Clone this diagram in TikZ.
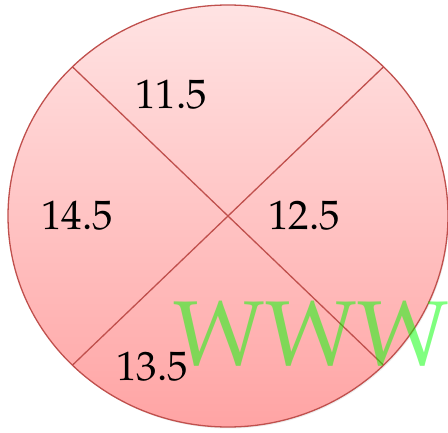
\documentclass[tikz,border=0pt]{standalone}
\usepackage[T1]{fontenc}
\usepackage{mathpazo}
\usepackage{tikz}
\usetikzlibrary{shadows}
\definecolor{pkborder}{HTML}{C0504D}
\definecolor{pktop}{HTML}{FFE3E3}
\definecolor{pkbottom}{HTML}{FFA4A4}
\definecolor{wwwgreen}{HTML}{00FF00}

\begin{document}
\begin{tikzpicture}[
  x=1pt, y=-1pt,
  num/.style={font=\fontsize{41}{44}\selectfont, inner sep=0pt, text=black},
  cut/.style={draw=pkborder, line width=1.3pt},
  mark text/.style={font=\fontsize{92}{96}\selectfont, text=wwwgreen, text opacity=0.5, inner sep=0pt, anchor=base west}
]
\useasboundingbox (0,0) rectangle (448,433);
% Disc
\shade[top color=pktop, bottom color=pkbottom, draw=pkborder, line width=1.3pt,
  drop shadow={opacity=0.15, shadow xshift=1pt, shadow yshift=-1.5pt}]
  (228,216) ellipse [x radius=220pt, y radius=211pt];
\coordinate (c) at (228,216);
\coordinate (nw) at (72.4,66.8);
\coordinate (ne) at (383.6,66.8);
\coordinate (sw) at (72.4,365.2);
\coordinate (se) at (383.6,365.2);
\draw[cut] (nw) -- (c) -- (se);
\draw[cut] (ne) -- (c) -- (sw);
% Values
\node[num] (top) at (171,95) {11.5};
\node[num] (left) at (77,216) {14.5};
\node[num] (right) at (304,216) {12.5};
\node[num] (bottom) at (152,367) {13.5};
% Watermark
\node[mark text] (www) at (173,366) {WWW};
\end{tikzpicture}
\end{document}
